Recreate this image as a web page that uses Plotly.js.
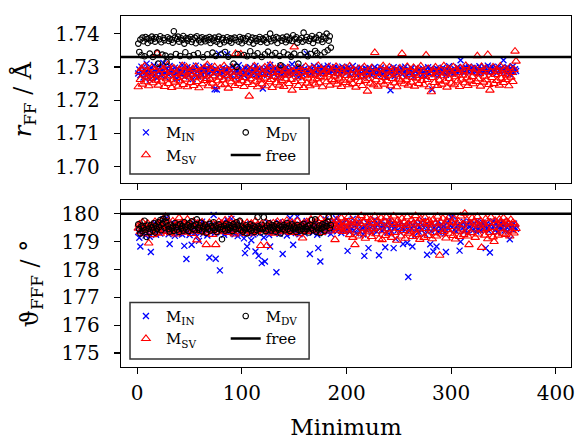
<!DOCTYPE html>
<html>
<head>
<meta charset="utf-8">
<script src="https://cdn.plot.ly/plotly-3.0.1.min.js"></script>
<style>html,body{margin:0;padding:0;background:#fff;}#chart{width:576px;height:441px;}</style>
</head>
<body>
<div id="chart"></div>
<script>
// ---------- data ----------
const rIN = [
1.7280,1.7292,1.7275,1.7301,1.7286,1.7268,1.7295,1.7283,1.7310,1.7277,
1.7289,1.7262,1.7298,1.7284,1.7271,1.7305,1.7290,1.7279,1.7266,1.7293,
1.7285,1.7300,1.7274,1.7288,1.7312,1.7281,1.7269,1.7296,1.7287,1.7276,
1.7303,1.7284,1.7291,1.7272,1.7286,1.7298,1.7280,1.7265,1.7294,1.7283,
1.7289,1.7277,1.7306,1.7285,1.7270,1.7292,1.7281,1.7299,1.7274,1.7287,
1.7296,1.7283,1.7263,1.7290,1.7278,1.7304,1.7286,1.7271,1.7293,1.7282,
1.7288,1.7275,1.7300,1.7284,1.7268,1.7295,1.7289,1.7279,1.7302,1.7273,
1.7286,1.7291,1.7280,1.7233,1.7294,1.7232,1.7283,1.7340,1.7277,1.7290,
1.7285,1.7298,1.7270,1.7287,1.7293,1.7338,1.7281,1.7296,1.7274,1.7289,
1.7301,1.7283,1.7267,1.7292,1.7286,1.7279,1.7305,1.7284,1.7272,1.7290,
1.7288,1.7276,1.7297,1.7283,1.7264,1.7293,1.7281,1.7299,1.7286,1.7274,
1.7291,1.7285,1.7303,1.7278,1.7289,1.7270,1.7295,1.7282,1.7287,1.7235,
1.7293,1.7280,1.7298,1.7275,1.7288,1.7284,1.7306,1.7271,1.7292,1.7286,
1.7279,1.7297,1.7283,1.7268,1.7290,1.7285,1.7302,1.7277,1.7294,1.7281,
1.7288,1.7273,1.7299,1.7286,1.7291,1.7279,1.7284,1.7308,1.7276,1.7290,
1.7287,1.7296,1.7282,1.7269,1.7293,1.7285,1.7300,1.7278,1.7289,1.7295,
1.7283,1.7340,1.7291,1.7286,1.7298,1.7280,1.7294,1.7288,1.7303,1.7284,
1.7297,1.7290,1.7279,1.7301,1.7287,1.7293,1.7282,1.7299,1.7289,1.7295,
1.7286,1.7304,1.7291,1.7283,1.7298,1.7288,1.7294,1.7280,1.7300,1.7290,
1.7285,1.7297,1.7289,1.7276,1.7293,1.7301,1.7284,1.7290,1.7296,1.7282,
1.7288,1.7299,1.7279,1.7292,1.7286,1.7303,1.7281,1.7294,1.7289,1.7275,
1.7291,1.7285,1.7298,1.7280,1.7293,1.7287,1.7270,1.7296,1.7284,1.7290,
1.7283,1.7297,1.7288,1.7274,1.7292,1.7286,1.7300,1.7279,1.7289,1.7294,
1.7281,1.7287,1.7298,1.7276,1.7290,1.7284,1.7293,1.7268,1.7286,1.7295,
1.7279,1.7230,1.7291,1.7285,1.7299,1.7272,1.7288,1.7294,1.7282,1.7290,
1.7286,1.7297,1.7278,1.7292,1.7284,1.7301,1.7287,1.7274,1.7293,1.7281,
1.7289,1.7296,1.7283,1.7270,1.7290,1.7286,1.7298,1.7279,1.7292,1.7285,
1.7288,1.7276,1.7295,1.7283,1.7290,1.7269,1.7287,1.7299,1.7281,1.7294,
1.7286,1.7232,1.7291,1.7278,1.7289,1.7296,1.7284,1.7273,1.7292,1.7287,
1.7281,1.7298,1.7285,1.7290,1.7276,1.7293,1.7288,1.7302,1.7283,1.7291,
1.7286,1.7279,1.7295,1.7289,1.7284,1.7300,1.7292,1.7287,1.7320,1.7294,
1.7288,1.7296,1.7283,1.7299,1.7290,1.7285,1.7301,1.7293,1.7287,1.7297,
1.7284,1.7291,1.7298,1.7286,1.7294,1.7280,1.7302,1.7289,1.7295,1.7290,
1.7285,1.7299,1.7292,1.7287,1.7304,1.7283,1.7296,1.7290,1.7300,1.7286,
1.7293,1.7288,1.7297,1.7282,1.7301,1.7291,1.7286,1.7298,1.7290,1.7320,
1.7287,1.7295,1.7283,1.7299,1.7291,1.7278,1.7296,1.7289,1.7302,1.7285,1.7293,1.7288];

const rSV = [
1.7240,1.7285,1.7262,1.7295,1.7248,1.7276,1.7302,1.7255,1.7270,1.7288,
1.7243,1.7281,1.7266,1.7298,1.7252,1.7274,1.7290,1.7260,1.7340,1.7245,
1.7279,1.7300,1.7257,1.7269,1.7292,1.7241,1.7283,1.7264,1.7306,1.7250,
1.7273,1.7287,1.7238,1.7261,1.7296,1.7254,1.7280,1.7268,1.7242,1.7291,
1.7258,1.7276,1.7303,1.7247,1.7284,1.7263,1.7299,1.7240,1.7272,1.7286,
1.7253,1.7278,1.7294,1.7244,1.7267,1.7301,1.7256,1.7282,1.7237,1.7270,
1.7289,1.7249,1.7275,1.7297,1.7259,1.7265,1.7306,1.7243,1.7281,1.7262,
1.7292,1.7251,1.7273,1.7300,1.7240,1.7285,1.7258,1.7269,1.7295,1.7246,
1.7279,1.7261,1.7303,1.7248,1.7274,1.7290,1.7236,1.7266,1.7284,1.7255,
1.7298,1.7271,1.7244,1.7340,1.7263,1.7287,1.7250,1.7276,1.7338,1.7258,
1.7282,1.7241,1.7268,1.7296,1.7253,1.7279,1.7212,1.7264,1.7291,1.7247,
1.7274,1.7302,1.7257,1.7285,1.7240,1.7270,1.7293,1.7261,1.7249,1.7280,
1.7266,1.7299,1.7243,1.7277,1.7288,1.7255,1.7305,1.7262,1.7238,1.7283,
1.7271,1.7294,1.7252,1.7267,1.7286,1.7245,1.7300,1.7259,1.7278,1.7241,
1.7290,1.7264,1.7275,1.7297,1.7250,1.7281,1.7262,1.7230,1.7287,1.7360,
1.7256,1.7279,1.7298,1.7244,1.7270,1.7292,1.7258,1.7284,1.7238,1.7273,
1.7301,1.7251,1.7266,1.7289,1.7243,1.7278,1.7296,1.7260,1.7275,1.7248,
1.7285,1.7264,1.7304,1.7252,1.7271,1.7293,1.7240,1.7280,1.7267,1.7290,
1.7255,1.7276,1.7299,1.7245,1.7283,1.7262,1.7294,1.7257,1.7272,1.7301,
1.7248,1.7279,1.7266,1.7292,1.7241,1.7284,1.7260,1.7297,1.7253,1.7274,
1.7288,1.7246,1.7302,1.7263,1.7277,1.7250,1.7291,1.7268,1.7239,1.7282,
1.7270,1.7295,1.7256,1.7286,1.7244,1.7273,1.7300,1.7259,1.7279,1.7227,
1.7264,1.7289,1.7251,1.7297,1.7276,1.7246,1.7343,1.7261,1.7283,1.7242,
1.7271,1.7294,1.7255,1.7280,1.7303,1.7248,1.7268,1.7290,1.7258,1.7275,
1.7299,1.7243,1.7284,1.7265,1.7292,1.7252,1.7278,1.7240,1.7287,1.7263,
1.7296,1.7257,1.7340,1.7270,1.7249,1.7285,1.7261,1.7301,1.7245,1.7277,
1.7290,1.7254,1.7268,1.7298,1.7242,1.7282,1.7266,1.7293,1.7250,1.7274,
1.7302,1.7259,1.7286,1.7246,1.7271,1.7335,1.7262,1.7295,1.7240,1.7280,
1.7225,1.7268,1.7289,1.7253,1.7299,1.7276,1.7244,1.7284,1.7260,1.7291,
1.7248,1.7273,1.7303,1.7257,1.7281,1.7239,1.7294,1.7265,1.7287,1.7251,
1.7278,1.7300,1.7246,1.7270,1.7292,1.7258,1.7283,1.7241,1.7296,1.7263,
1.7275,1.7289,1.7252,1.7304,1.7267,1.7244,1.7285,1.7260,1.7297,1.7271,
1.7249,1.7282,1.7293,1.7256,1.7333,1.7264,1.7279,1.7242,1.7301,1.7287,
1.7254,1.7272,1.7295,1.7261,1.7337,1.7247,1.7230,1.7284,1.7268,1.7299,
1.7250,1.7277,1.7291,1.7259,1.7286,1.7245,1.7302,1.7266,1.7280,1.7253,
1.7294,1.7262,1.7275,1.7288,1.7243,1.7298,1.7269,1.7283,1.7256,1.7292,1.7347,1.7317];

const rDV = [
1.7370,1.7345,1.7382,1.7335,1.7388,1.7377,1.7332,1.7390,1.7384,1.7372,
1.7386,1.7340,1.7379,1.7391,1.7330,1.7385,1.7376,1.7389,1.7343,1.7310,
1.7383,1.7392,1.7374,1.7337,1.7387,1.7380,1.7334,1.7315,1.7389,1.7378,
1.7385,1.7331,1.7382,1.7373,1.7407,1.7388,1.7339,1.7384,1.7391,1.7376,
1.7333,1.7386,1.7381,1.7393,1.7370,1.7344,1.7387,1.7379,1.7385,1.7332,
1.7390,1.7375,1.7383,1.7336,1.7388,1.7371,1.7392,1.7341,1.7380,1.7386,
1.7374,1.7389,1.7329,1.7383,1.7377,1.7387,1.7338,1.7381,1.7390,1.7372,
1.7385,1.7343,1.7379,1.7388,1.7333,1.7376,1.7384,1.7391,1.7369,1.7337,
1.7382,1.7387,1.7374,1.7345,1.7380,1.7389,1.7331,1.7378,1.7386,1.7373,
1.7384,1.7310,1.7388,1.7381,1.7300,1.7339,1.7376,1.7390,1.7383,1.7371,
1.7387,1.7336,1.7379,1.7385,1.7332,1.7392,1.7374,1.7347,1.7381,1.7388,
1.7370,1.7334,1.7386,1.7378,1.7341,1.7383,1.7390,1.7375,1.7330,1.7385,
1.7380,1.7338,1.7389,1.7373,1.7346,1.7384,1.7400,1.7377,1.7335,1.7387,
1.7381,1.7342,1.7390,1.7372,1.7386,1.7333,1.7305,1.7379,1.7388,1.7344,
1.7383,1.7374,1.7391,1.7337,1.7380,1.7386,1.7331,1.7378,1.7395,1.7340,
1.7384,1.7389,1.7373,1.7310,1.7382,1.7336,1.7387,1.7376,1.7403,1.7345,
1.7381,1.7390,1.7332,1.7378,1.7385,1.7339,1.7393,1.7372,1.7384,1.7348,
1.7388,1.7341,1.7380,1.7396,1.7335,1.7383,1.7375,1.7391,1.7344,1.7386,
1.7400,1.7350,1.7379,1.7392,1.7358];

const tIN = [
179.35,179.14,178.83,179.52,179.28,179.61,179.40,179.22,179.55,179.33,
179.47,179.18,178.63,179.58,179.30,179.44,179.66,179.25,179.50,179.38,
179.62,179.29,179.71,179.45,179.80,179.36,179.58,179.84,179.41,179.27,
178.92,179.55,179.34,179.68,179.47,179.21,179.60,179.39,179.52,179.30,
179.65,179.43,179.26,179.57,178.85,179.48,178.38,179.36,179.62,179.24,
179.50,178.89,179.41,179.67,179.32,179.55,179.19,179.46,179.03,179.60,
179.37,179.72,179.28,179.51,179.43,179.64,179.22,179.54,178.43,179.35,
179.58,179.46,179.96,179.30,178.39,179.62,179.40,179.53,177.97,179.34,
179.48,179.69,179.25,179.57,179.42,179.78,179.31,179.60,179.45,179.82,
179.38,179.55,179.27,179.66,179.44,179.20,179.52,179.36,179.63,179.29,
179.47,179.12,178.59,179.41,178.83,179.56,179.33,179.64,179.05,179.48,
179.26,179.58,178.65,179.39,179.52,178.49,179.30,179.61,178.23,179.44,
179.15,178.29,179.55,179.37,179.68,179.24,178.83,179.50,179.40,179.62,
179.33,179.57,177.90,179.45,179.70,179.28,179.53,179.41,178.56,179.64,
179.36,179.50,179.22,179.59,179.47,179.85,179.31,179.56,178.89,179.42,
179.61,179.35,179.90,179.48,179.27,179.57,179.39,179.66,179.44,179.30,
179.55,179.74,179.38,179.52,178.56,179.46,179.63,179.33,179.58,179.41,
179.69,179.25,178.77,179.54,178.29,179.47,179.36,179.62,179.43,179.80,
179.51,179.34,179.65,179.48,179.28,179.59,179.40,179.72,179.53,179.84,
179.37,179.63,179.46,179.58,179.31,179.69,179.44,179.55,179.39,179.76,
178.67,179.52,179.35,179.64,179.48,179.82,179.41,179.57,179.30,179.68,
179.45,179.60,179.38,179.73,179.50,179.26,178.49,179.55,179.43,179.66,
178.77,179.47,179.62,179.34,179.58,179.41,179.79,179.52,179.36,179.64,
178.51,179.49,179.70,179.39,179.56,179.45,178.80,179.61,179.33,179.74,
179.47,179.59,179.38,179.68,178.77,179.53,179.10,179.64,179.42,179.57,
179.35,179.70,179.48,178.92,179.60,179.43,179.55,178.95,177.73,179.37,
179.66,179.49,178.83,179.58,179.20,179.72,179.44,179.61,179.36,179.53,
179.67,179.41,179.75,179.50,179.28,179.63,178.53,179.46,179.59,178.91,
179.38,179.65,178.65,179.52,179.44,178.83,179.70,179.35,179.57,179.48,
179.62,179.40,179.55,179.30,178.63,179.68,179.47,179.74,179.59,179.88,
179.52,179.90,179.43,179.66,179.37,179.58,179.45,178.68,179.00,179.61,
179.49,179.72,179.38,179.57,179.64,179.33,179.55,179.70,179.46,179.60,
179.41,179.67,179.52,179.36,179.75,179.48,179.62,179.40,179.58,179.69,
179.44,179.56,178.77,179.65,179.50,179.38,178.61,179.61,179.47,179.73,
179.55,179.42,179.68,179.34,179.59,179.50,179.66,179.45,179.72,179.58,
179.40,179.63,179.52,179.37,179.60,179.09,179.48,179.57,179.43,179.65,179.51,179.46];

const tSV = [
179.48,179.62,179.35,179.55,179.70,179.42,179.28,179.58,179.45,179.66,
178.95,179.52,179.38,179.60,179.25,179.47,179.72,179.33,179.56,179.44,
179.68,179.30,179.53,179.78,179.41,179.62,179.90,179.36,179.55,179.47,
179.65,179.32,179.50,179.74,179.43,179.58,179.27,179.63,179.46,179.85,
179.39,179.57,179.70,179.34,179.52,179.64,179.44,179.80,179.37,179.55,
179.62,179.29,179.48,179.73,179.41,179.58,179.06,179.66,179.45,179.53,
179.36,179.70,179.49,179.61,179.32,178.89,179.57,179.44,179.68,179.39,
179.54,179.26,179.63,179.47,178.89,179.59,179.35,179.72,179.43,179.56,
179.66,179.38,179.51,179.77,179.45,179.60,179.33,179.69,179.48,179.82,
179.41,179.55,179.27,179.64,179.46,179.58,179.35,179.71,179.50,179.43,
179.62,179.37,179.56,179.29,179.68,179.45,179.53,179.40,179.66,179.31,
179.57,179.48,179.74,179.36,179.60,179.44,179.52,178.86,179.65,179.39,
179.55,179.47,179.70,178.86,179.58,179.34,179.63,179.49,179.42,179.67,
179.30,179.56,179.45,179.72,179.38,179.61,179.52,179.43,179.68,179.35,
179.59,179.48,179.76,179.40,179.64,179.53,179.33,179.69,179.46,179.57,
179.62,179.37,179.74,179.50,179.28,179.60,179.44,179.13,179.66,179.41,
179.55,179.71,179.36,179.62,179.48,179.80,179.42,179.58,179.52,179.67,
179.39,179.75,179.56,179.45,179.83,179.33,179.61,179.50,179.70,179.44,
179.64,179.55,179.88,179.38,179.59,179.72,179.47,179.66,179.07,179.53,
179.78,179.41,179.62,179.50,179.85,179.36,179.57,179.73,179.45,179.68,
179.42,179.90,179.25,179.63,179.76,179.15,179.57,178.89,179.70,179.38,
179.82,179.20,179.65,179.93,179.30,179.48,179.71,179.12,179.86,179.42,
179.64,179.35,179.79,179.18,179.68,179.47,179.91,179.28,179.52,179.74,
179.10,179.66,179.85,179.07,179.39,179.73,179.22,179.88,179.46,179.62,
179.28,179.80,179.15,179.69,179.92,179.33,179.61,179.05,179.77,179.47,
179.65,179.20,179.84,179.40,179.70,179.12,179.58,179.89,179.30,179.63,
179.35,179.78,179.18,179.66,179.42,179.93,179.25,179.71,179.49,179.08,
179.82,179.30,179.64,179.15,179.87,179.47,179.69,179.22,179.76,179.45,
179.62,179.10,179.80,179.32,179.67,179.20,179.91,179.48,178.51,179.70,
179.27,179.84,179.36,179.63,179.13,179.75,179.43,179.88,179.30,179.54,
179.69,179.22,179.81,179.09,179.64,179.37,179.73,179.18,179.92,179.45,
179.62,179.25,180.02,179.38,179.78,179.20,178.89,179.67,179.32,179.85,
179.45,179.70,179.15,179.63,179.90,179.27,179.59,179.74,178.79,179.42,
179.66,179.23,179.82,179.47,179.10,179.69,179.33,179.88,179.51,179.17,
179.00,179.76,179.35,179.64,179.23,179.80,179.48,179.70,179.30,179.85,
179.62,179.26,179.73,179.45,179.66,179.20,179.79,179.38,179.68,179.31,179.63,179.47];

const tDV = [
179.62,179.45,179.30,179.55,179.38,179.50,179.75,179.42,179.17,179.58,
179.47,179.35,179.60,179.52,179.40,179.66,179.33,179.56,179.45,179.70,
179.53,179.78,179.41,179.64,179.82,179.50,179.72,179.86,179.58,179.45,
179.36,179.61,179.48,179.55,179.39,179.67,179.52,179.43,179.59,179.35,
179.63,179.47,179.56,179.40,179.70,179.51,179.44,179.60,179.38,179.66,
179.54,179.73,179.46,179.57,179.41,179.62,179.80,179.50,179.43,179.58,
179.68,179.37,179.55,179.47,179.61,179.32,179.52,179.45,179.64,179.40,
179.56,179.50,179.70,179.42,179.58,179.35,179.48,179.62,179.44,179.53,
179.09,179.46,179.57,179.40,179.65,179.51,179.43,179.60,179.48,179.55,
179.38,179.63,179.52,179.45,179.70,179.58,179.47,179.75,179.41,179.54,
179.36,179.50,179.44,179.59,179.30,179.53,179.46,179.62,179.40,179.48,
179.57,179.35,179.52,179.42,179.88,179.55,179.47,179.33,179.61,179.45,
179.88,179.50,179.38,179.58,179.44,179.66,179.52,179.40,179.60,179.47,
179.55,179.36,179.63,179.49,179.43,179.58,179.30,179.54,179.46,179.60,
179.41,179.52,179.67,179.45,179.57,179.38,179.50,179.62,179.44,179.55,
179.48,179.35,179.60,179.43,179.53,179.40,179.58,179.46,179.64,179.37,
179.52,179.45,179.57,179.33,179.61,179.48,179.78,179.42,179.55,179.80,
179.36,179.50,179.44,179.58,179.31,179.47,179.62,179.52,179.40,179.66,
179.56,179.72,179.90,179.48,179.60];

const freeR = 1.733;      // free molecule r_FF / Å
const freeTheta = 180.0;  // free molecule angle / °
const xRange = [-15.5, 414.5];
const names = ['M<sub>IN</sub>', 'M<sub>SV</sub>', 'M<sub>DV</sub>', 'free'];

// minimum index (1..N)
const idx = a => a.map((_, i) => i + 1);

const FONT = 'DejaVu Serif';
const mkIN = {symbol: 'x-thin-open', size: 6, color: '#0000ff', line: {color: '#0000ff', width: 1.3}};
const mkSV = {symbol: 'triangle-up-open', size: 7.5, color: '#ff0000', line: {color: '#ff0000', width: 1.1}};
const mkDV = {symbol: 'circle-open', size: 5.5, color: '#000000', line: {color: '#000000', width: 1.1}};

function panel(xa, ya, vIN, vSV, vDV, free, lgA, lgB) {
  return [
    {x: idx(vIN), y: vIN, xaxis: xa, yaxis: ya, type: 'scatter', mode: 'markers', name: names[0], marker: mkIN, legend: lgA},
    {x: idx(vSV), y: vSV, xaxis: xa, yaxis: ya, type: 'scatter', mode: 'markers', name: names[1], marker: mkSV, legend: lgA},
    {x: idx(vDV), y: vDV, xaxis: xa, yaxis: ya, type: 'scatter', mode: 'markers', name: names[2], marker: mkDV, legend: lgB},
    {x: xRange, y: [free, free], xaxis: xa, yaxis: ya, type: 'scatter', mode: 'lines', name: names[3], line: {color: '#000', width: 2.5}, legend: lgB}
  ];
}

const data = [].concat(
  panel('x', 'y', rIN, rSV, rDV, freeR, 'legend', 'legend2'),
  panel('x2', 'y2', tIN, tSV, tDV, freeTheta, 'legend3', 'legend4')
);

const axBase = {
  showline: true, mirror: true, linecolor: '#000', linewidth: 1.3,
  ticks: 'outside', ticklen: 6, tickwidth: 1.2, tickcolor: '#000',
  showgrid: false, zeroline: false, ticklabeloverflow: 'allow',
  tickfont: {family: FONT, size: 20, color: '#000'}
};

const legBase = {
  bgcolor: 'rgba(0,0,0,0)', borderwidth: 0, xanchor: 'left', yanchor: 'top',
  font: {family: FONT, size: 15, color: '#000'}, tracegroupgap: 0
};

const layout = {
  width: 576, height: 441,
  margin: {l: 121, r: 5, t: 16, b: 74},
  paper_bgcolor: '#fff', plot_bgcolor: '#fff',
  font: {family: FONT, color: '#000'},
  showlegend: true,
  xaxis: Object.assign({}, axBase, {anchor: 'y', range: xRange, dtick: 100, tick0: 0, showticklabels: false}),
  xaxis2: Object.assign({}, axBase, {anchor: 'y2', range: xRange, dtick: 100, tick0: 0, ticklabelstandoff: 2,
    title: {text: 'Minimum', font: {family: FONT, size: 23, color: '#000'}, standoff: 14}}),
  yaxis: Object.assign({}, axBase, {domain: [0.524, 1], range: [1.6951, 1.7453], dtick: 0.01, tick0: 1.70, tickformat: '.2f', ticklabelstandoff: 10,
    title: {text: '<i>r</i><sub>FF</sub> / Å', font: {family: FONT, size: 24, color: '#000'}, standoff: 16}}),
  yaxis2: Object.assign({}, axBase, {domain: [0, 0.476], range: [174.5, 180.5], dtick: 1, tick0: 175, ticklabelstandoff: 10,
    title: {text: 'ϑ<sub>FFF</sub> / °', font: {family: FONT, size: 24, color: '#000'}, standoff: 16}}),
  legend:  Object.assign({}, legBase, {x: 0.011, y: 0.7147}),
  legend2: Object.assign({}, legBase, {x: 0.2327, y: 0.7147}),
  legend3: Object.assign({}, legBase, {x: 0.011, y: 0.1914}),
  legend4: Object.assign({}, legBase, {x: 0.2327, y: 0.1914}),
  shapes: [
    {type: 'rect', xref: 'x domain', yref: 'y domain', x0: 0.02, x1: 0.418, y0: 0.054, y1: 0.389,
     fillcolor: '#fff', line: {color: '#333', width: 1.5}, layer: 'above'},
    {type: 'rect', xref: 'x2 domain', yref: 'y2 domain', x0: 0.02, x1: 0.418, y0: 0.048, y1: 0.386,
     fillcolor: '#fff', line: {color: '#333', width: 1.5}, layer: 'above'}
  ]
};

Plotly.newPlot('chart', data, layout, {staticPlot: true, displayModeBar: false});
</script>
</body>
</html>
